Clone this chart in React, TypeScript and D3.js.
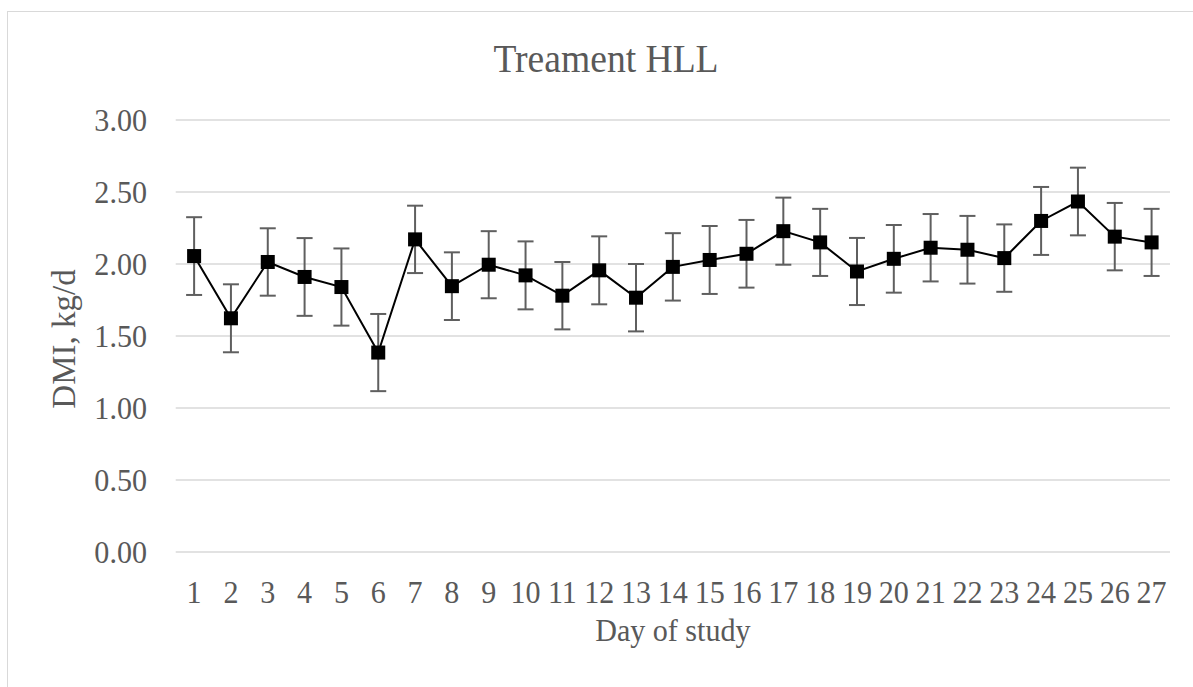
import React from "react";
import * as d3 from "d3";

const days: string[] = Array.from({ length: 27 }, (_, i) => String(i + 1));
const dmi: number[] = [2.055, 1.623, 2.014, 1.91, 1.84, 1.385, 2.171, 1.846, 1.995, 1.921, 1.78, 1.956, 1.766, 1.98, 2.028, 2.071, 2.228, 2.15, 1.948, 2.036, 2.113, 2.099, 2.041, 2.299, 2.434, 2.19, 2.15];
const errs: number[] = [0.27, 0.236, 0.234, 0.27, 0.268, 0.268, 0.234, 0.235, 0.233, 0.236, 0.234, 0.236, 0.234, 0.234, 0.236, 0.235, 0.233, 0.233, 0.233, 0.235, 0.234, 0.235, 0.234, 0.236, 0.235, 0.234, 0.233];
const yTicks: number[] = [0, 0.5, 1, 1.5, 2, 2.5, 3];
const title = "Treament HLL";
const xTitle = "Day of study";
const yTitle = "DMI, kg/d";

const W = 1193;
const H = 687;
const plot = { left: 175.7, right: 1170, top: 120, bottom: 552 };
const textColor = "#595959";
const font = "'Liberation Serif', 'Times New Roman', serif";
const SX = 0.94;

export default function App() {
  const x = d3.scaleBand<string>().domain(days).range([plot.left, plot.right]).padding(0);
  const y = d3.scaleLinear().domain([0, 3]).range([plot.bottom, plot.top]);
  const cx = (d: string) => (x(d) as number) + x.bandwidth() / 2;
  const line = d3
    .line<number>()
    .x((_, i) => cx(days[i]))
    .y((v) => y(v));
  const ms = 14;

  return (
    <svg width={W} height={H} style={{ position: "absolute", left: 0, top: 0, background: "#fff" }}>
      <rect x={7.5} y={11.5} width={1220} height={720} fill="#fff" stroke="#d9d9d9" strokeWidth={1} />
      <text
        transform={`translate(606,72) scale(${SX},1)`}
        textAnchor="middle"
        fontFamily={font}
        fontSize={40}
        fill={textColor}
      >
        {title}
      </text>
      {yTicks.map((t) => (
        <g key={t}>
          <line x1={plot.left} x2={plot.right} y1={y(t)} y2={y(t)} stroke="#d9d9d9" strokeWidth={1.5} />
          <text
            transform={`translate(147,${y(t) + 11}) scale(${SX},1)`}
            textAnchor="end"
            fontFamily={font}
            fontSize={32}
            fill={textColor}
          >
            {t.toFixed(2)}
          </text>
        </g>
      ))}
      {days.map((d) => (
        <text
          key={d}
          transform={`translate(${cx(d)},603) scale(${SX},1)`}
          textAnchor="middle"
          fontFamily={font}
          fontSize={32}
          fill={textColor}
        >
          {d}
        </text>
      ))}
      <text
        transform={`translate(${(plot.left + plot.right) / 2},641) scale(${SX},1)`}
        textAnchor="middle"
        fontFamily={font}
        fontSize={32}
        fill={textColor}
      >
        {xTitle}
      </text>
      <text
        transform={`translate(75,${(plot.top + plot.bottom) / 2 + 3}) rotate(-90)`}
        textAnchor="middle"
        fontFamily={font}
        fontSize={33}
        fill={textColor}
      >
        {yTitle}
      </text>
      {dmi.map((v, i) => {
        const xc = cx(days[i]);
        const t = y(v + errs[i]);
        const b = y(v - errs[i]);
        return (
          <g key={i} stroke="#5f5f5f" strokeWidth={2}>
            <line x1={xc} x2={xc} y1={t} y2={b} />
            <line x1={xc - 8} x2={xc + 8} y1={t} y2={t} />
            <line x1={xc - 8} x2={xc + 8} y1={b} y2={b} />
          </g>
        );
      })}
      <path d={line(dmi) || ""} fill="none" stroke="#000" strokeWidth={2} />
      {dmi.map((v, i) => (
        <rect key={i} x={cx(days[i]) - ms / 2} y={y(v) - ms / 2} width={ms} height={ms} fill="#000" />
      ))}
    </svg>
  );
}
